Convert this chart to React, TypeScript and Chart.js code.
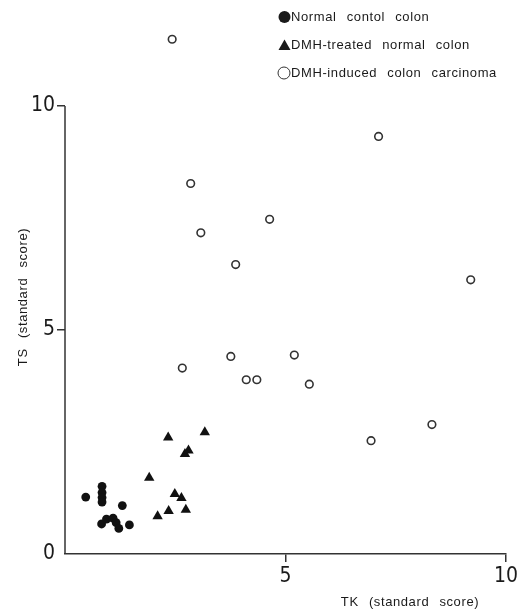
import React, { useEffect, useRef } from "react";
import { Chart, registerables } from "chart.js";

Chart.register(...registerables);

const seriesLabels = [
  "Normal contol colon",
  "DMH-treated normal colon",
  "DMH-induced colon carcinoma",
];

const normalX = [0.47, 0.84, 0.84, 0.84, 0.84, 1.3, 0.83, 0.94, 1.09, 1.16, 1.22, 1.46];
const normalY = [1.27, 1.51, 1.37, 1.26, 1.16, 1.08, 0.67, 0.78, 0.8, 0.7, 0.57, 0.65];

const treatedX = [2.34, 3.17, 2.72, 2.8, 1.91, 2.49, 2.64, 2.35, 2.1, 2.74];
const treatedY = [2.6, 2.72, 2.23, 2.31, 1.7, 1.34, 1.25, 0.96, 0.84, 0.99];

const carcinomaX = [2.43, 7.11, 2.85, 3.08, 4.64, 3.87, 9.2, 3.76, 5.2, 2.66, 4.11, 4.35, 5.54, 6.94, 8.32];
const carcinomaY = [11.49, 9.32, 8.27, 7.17, 7.47, 6.46, 6.12, 4.41, 4.44, 4.15, 3.89, 3.89, 3.79, 2.53, 2.89];

const xTicks = [0, 5, 10];
const yTicks = [0, 5, 10];
const yAxisTop = 10;

const xTitle = "TK (standard score)";
const yTitle = "TS (standard score)";

const pts = (xs: number[], ys: number[]) => xs.map((x, i) => ({ x, y: ys[i] }));

const TEXT_FONT = "13px 'Liberation Sans', Arial, sans-serif";
const TICK_FONT_FAMILY = "'Liberation Sans Narrow', 'DejaVu Sans Condensed', sans-serif";

function setSpacing(ctx: any) {
  ctx.letterSpacing = "0.6px";
  ctx.wordSpacing = "6px";
}

const axisLinePlugin = {
  id: "yAxisLine",
  beforeDatasetsDraw(chart: any) {
    const ctx = chart.ctx as CanvasRenderingContext2D;
    const y = chart.scales.y;
    const area = chart.chartArea;
    ctx.save();
    ctx.strokeStyle = "#333";
    ctx.lineWidth = 1.5;
    ctx.beginPath();
    ctx.moveTo(area.left, y.getPixelForValue(yAxisTop));
    ctx.lineTo(area.left, area.bottom);
    ctx.stroke();
    ctx.restore();
  },
};

const annotationPlugin = {
  id: "legendAndTitles",
  afterDraw(chart: any) {
    const ctx = chart.ctx as CanvasRenderingContext2D;
    ctx.save();
    ctx.fillStyle = "#1a1a1a";
    ctx.font = TEXT_FONT;
    setSpacing(ctx);
    ctx.textBaseline = "middle";
    ctx.textAlign = "left";

    const mx = 284.5;
    const rows = [17, 45, 73];
    ctx.beginPath();
    ctx.arc(mx, rows[0], 6, 0, Math.PI * 2);
    ctx.fill();
    ctx.beginPath();
    ctx.moveTo(mx, rows[1] - 5.5);
    ctx.lineTo(mx + 6, rows[1] + 5);
    ctx.lineTo(mx - 6, rows[1] + 5);
    ctx.closePath();
    ctx.fill();
    ctx.beginPath();
    ctx.strokeStyle = "#333";
    ctx.lineWidth = 1;
    ctx.arc(mx - 0.5, rows[2], 6, 0, Math.PI * 2);
    ctx.stroke();

    seriesLabels.forEach((t, i) => {
      ctx.fillText(t, 291, rows[i] + 0.5);
    });

    ctx.textAlign = "center";
    ctx.fillText(xTitle, 410, 602);
    ctx.save();
    ctx.translate(23, 297);
    ctx.rotate(-Math.PI / 2);
    ctx.fillText(yTitle, 0, 0);
    ctx.restore();
    ctx.restore();
  },
};

export default function App() {
  const ref = useRef<HTMLCanvasElement>(null);
  useEffect(() => {
    if (!ref.current) return;
    const tickColor = (c: any) => (c.tick && c.tick.value === 0 ? "rgba(0,0,0,0)" : "#333");
    const chart = new Chart(ref.current, {
      type: "scatter",
      data: {
        datasets: [
          {
            label: seriesLabels[0],
            data: pts(normalX, normalY),
            pointStyle: "circle",
            pointRadius: 4.4,
            backgroundColor: "#111",
            borderColor: "#111",
            borderWidth: 0,
          } as any,
          {
            label: seriesLabels[1],
            data: pts(treatedX, treatedY),
            pointStyle: "triangle",
            pointRadius: 6,
            backgroundColor: "#111",
            borderColor: "#111",
            borderWidth: 0,
          } as any,
          {
            label: seriesLabels[2],
            data: pts(carcinomaX, carcinomaY),
            pointStyle: "circle",
            pointRadius: 3.8,
            backgroundColor: "#fff",
            borderColor: "#333",
            borderWidth: 1.6,
          } as any,
        ],
      },
      options: {
        responsive: false,
        animation: false,
        events: [],
        layout: { padding: { top: 16.4, right: 19, left: 0, bottom: 0 } },
        plugins: { legend: { display: false }, tooltip: { enabled: false } },
        scales: {
          x: {
            type: "linear",
            min: 0,
            max: 10,
            afterBuildTicks: (s: any) => {
              s.ticks = xTicks.map((v) => ({ value: v }));
            },
            afterFit: (s: any) => {
              s.height = 57;
            },
            ticks: {
              callback: (v: any) => (v === 0 ? "" : String(v)),
              font: { family: TICK_FONT_FAMILY, size: 21 },
              color: "#1a1a1a",
              padding: 2,
              maxRotation: 0,
            },
            grid: {
              drawOnChartArea: false,
              drawTicks: true,
              tickLength: 8,
              color: tickColor,
              lineWidth: 1.5,
            },
            border: { color: "#333", width: 1.5 },
          },
          y: {
            type: "linear",
            min: 0,
            max: 12,
            afterBuildTicks: (s: any) => {
              s.ticks = yTicks.map((v) => ({ value: v }));
            },
            afterFit: (s: any) => {
              s.width = 65;
            },
            ticks: {
              callback: (v: any) => String(v),
              font: { family: TICK_FONT_FAMILY, size: 21 },
              color: "#1a1a1a",
              padding: 2,
            },
            grid: {
              drawOnChartArea: false,
              drawTicks: true,
              tickLength: 8,
              color: tickColor,
              lineWidth: 1.5,
            },
            border: { display: false },
          },
        },
      },
      plugins: [axisLinePlugin, annotationPlugin],
    });
    return () => chart.destroy();
  }, []);
  return (
    <div style={{ position: "absolute", left: 0, top: 0, width: 525, height: 611, background: "#fff" }}>
      <canvas ref={ref} width={525} height={611} style={{ display: "block", width: 525, height: 611 }} />
    </div>
  );
}
